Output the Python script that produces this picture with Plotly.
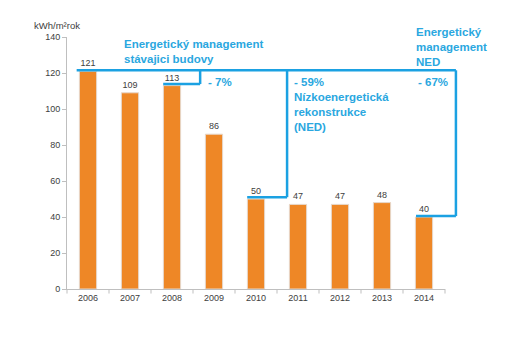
import plotly.graph_objects as go

years = ["2006", "2007", "2008", "2009", "2010", "2011", "2012", "2013", "2014"]
values = [121, 109, 113, 86, 50, 47, 47, 48, 40]
y_ticks = [0, 20, 40, 60, 80, 100, 120, 140]

BLUE = "#1BA1E2"
TXT_BLUE = "#2AA7E0"
N = len(years)

fig = go.Figure()
fig.add_trace(go.Bar(
    x=list(range(N)), y=values,
    width=0.41,
    marker=dict(color="#EE8726", line=dict(color="#E6D8CC", width=1)),
    text=[str(v) for v in values], textposition="outside",
    textfont=dict(size=9, color="#404040", family="Liberation Sans"),
    cliponaxis=False,
))

def px(i):
    return (i + 0.5) / N

def seg(x0, y0, x1, y1):
    fig.add_shape(type="line", xref="paper", yref="y", x0=px(x0), y0=y0, x1=px(x1), y1=y1,
                  line=dict(color=BLUE, width=2.5))

top = 121.5
seg(-0.27, top, 8.76, top)
# -7% bracket
seg(2.67, top, 2.67, 113.9)
seg(1.79, 113.9, 2.67, 113.9)
# -59% bracket
seg(4.74, top, 4.74, 51)
seg(3.79, 51, 4.74, 51)
# -67% bracket
seg(8.76, top, 8.76, 40.5)
seg(7.81, 40.5, 8.76, 40.5)

def note(x, y, text, anchor="top"):
    fig.add_annotation(xref="paper", yref="paper", x=px(x), y=y / 140.0, text=text, showarrow=False,
                       xanchor="left", yanchor=anchor, align="left",
                       font=dict(size=11.5, color=TXT_BLUE, family="Liberation Sans"))

note(0.82, 140.5, "<b>Energetický management<br>stávajici budovy</b>")
note(2.8, 119.5, "<b>- 7%</b>")
note(4.85, 119.5, "<b>- 59%<br>Nízkoenergetická<br>rekonstrukce<br>(NED)</b>")
note(7.8, 119.5, "<b>- 67%</b>")
note(7.77, 147, "<b>Energetický<br>management<br>NED</b>")

fig.add_annotation(xref="paper", yref="paper", x=-0.093, y=1.045, text="kWh/m²rok",
                   showarrow=False, xanchor="left", yanchor="middle",
                   font=dict(size=9.5, color="#404040", family="Liberation Sans"))

fig.update_layout(
    width=512, height=339,
    margin=dict(l=67, r=67, t=37, b=50),
    paper_bgcolor="white", plot_bgcolor="white",
    showlegend=False, bargap=0.5,
    xaxis=dict(range=[-0.5, 8.5], tickmode="array", tickvals=list(range(N)),
               ticktext=years, showgrid=False, showline=True, linecolor="#BFBFBF",
               linewidth=1, ticks="", tickfont=dict(size=9, color="#404040", family="Liberation Sans"),
               zeroline=False),
    yaxis=dict(range=[0, 140], tickvals=y_ticks, showgrid=False, showline=True,
               linecolor="#BFBFBF", linewidth=1, ticks="outside", ticklen=4, tickcolor="#BFBFBF",
               tickfont=dict(size=9, color="#404040", family="Liberation Sans"), zeroline=False),
)
# x-axis tick marks at category boundaries
for i in range(N + 1):
    fig.add_shape(type="line", xref="paper", yref="paper", x0=i / N, x1=i / N, y0=0, y1=-0.018,
                  line=dict(color="#BFBFBF", width=1))

fig.write_html("out.html")
